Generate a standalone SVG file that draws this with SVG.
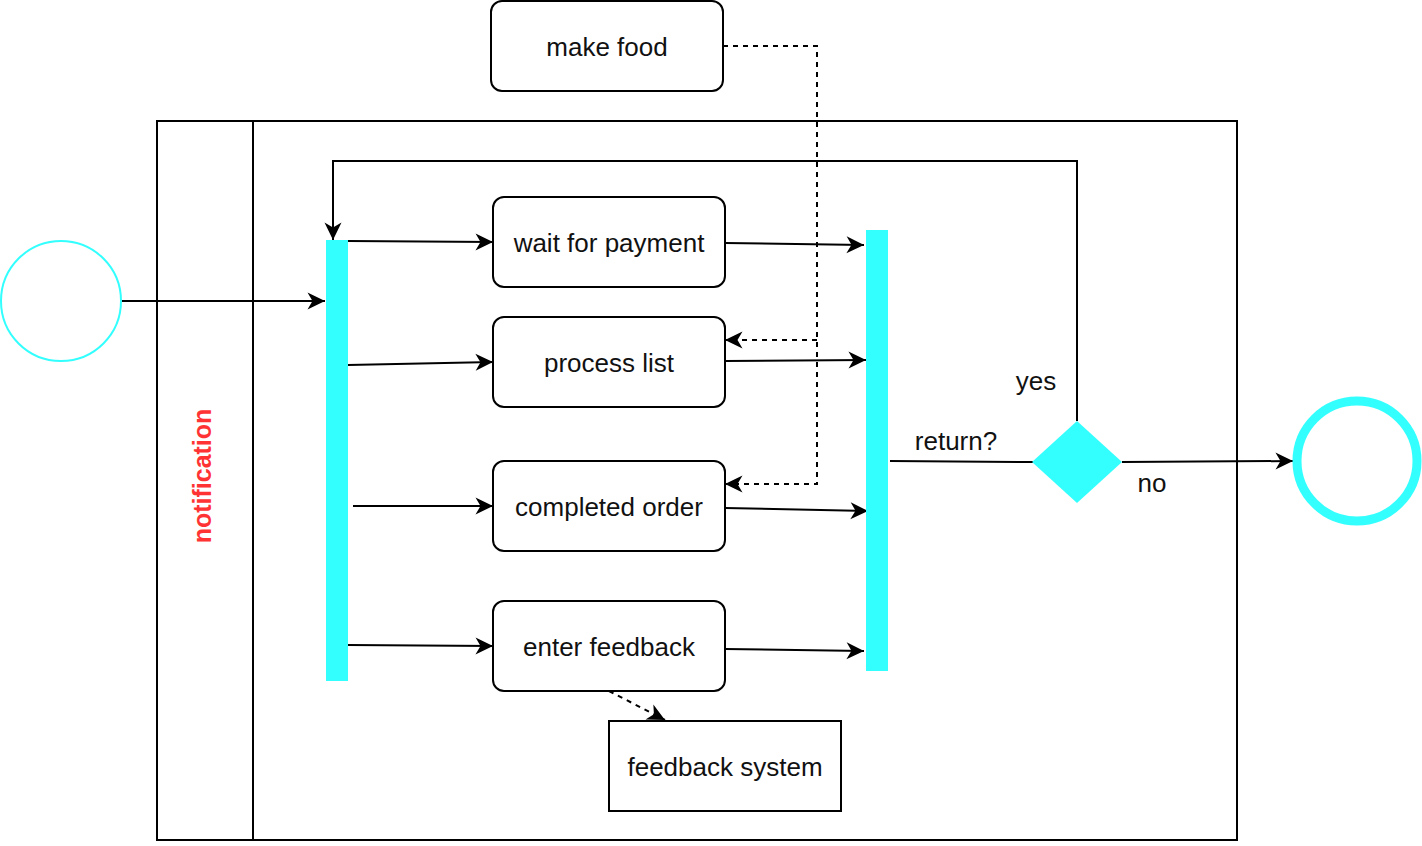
<svg xmlns="http://www.w3.org/2000/svg" width="1422" height="846" viewBox="0 0 1422 846">
<style>
  .box { fill: #fff; stroke: #000; stroke-width: 2; }
  .lbl { font-family: "Liberation Sans", Arial, sans-serif; font-size: 26px; fill: #111; text-anchor: middle; }
  .bar { fill: #33FFFF; }
  .edge { fill: none; stroke: #000; stroke-width: 2; }
  .dash { fill: none; stroke: #000; stroke-width: 2; stroke-dasharray: 5 5; }
</style>
<defs>
  <marker id="arr" markerUnits="userSpaceOnUse" markerWidth="19" markerHeight="19" viewBox="0 0 19 19" refX="18" refY="9.5" orient="auto">
    <path d="M0.5,1 L18,9.5 L0.5,18 L5.5,9.5 Z" fill="#000"/>
  </marker>
</defs>
<rect width="1422" height="846" fill="#fff"/>

<g id="pool">
  <rect x="157" y="121" width="1080" height="719" fill="none" stroke="#000" stroke-width="2"/>
  <line x1="253" y1="121" x2="253" y2="840" stroke="#000" stroke-width="2"/>
  <text transform="translate(211,476) rotate(-90)" x="0" y="0" style="font-family: 'Liberation Sans', Arial, sans-serif; font-size: 25px; font-weight: bold; fill: #FF3333; text-anchor: middle;">notification</text>
</g>

<g id="connectors">
  <line class="edge" x1="121" y1="301" x2="325" y2="301" marker-end="url(#arr)"/>
  <polyline class="edge" points="1077,421 1077,161 333,161 333,240" marker-end="url(#arr)"/>
  <line class="edge" x1="348" y1="241" x2="493" y2="242" marker-end="url(#arr)"/>
  <line class="edge" x1="348" y1="365" x2="493" y2="362" marker-end="url(#arr)"/>
  <line class="edge" x1="353" y1="506" x2="493" y2="506" marker-end="url(#arr)"/>
  <line class="edge" x1="348" y1="645" x2="493" y2="646" marker-end="url(#arr)"/>
  <line class="edge" x1="725" y1="243" x2="864" y2="245" marker-end="url(#arr)"/>
  <line class="edge" x1="725" y1="361" x2="866" y2="360" marker-end="url(#arr)"/>
  <line class="edge" x1="725" y1="508" x2="868" y2="511" marker-end="url(#arr)"/>
  <line class="edge" x1="725" y1="649" x2="864" y2="651" marker-end="url(#arr)"/>
  <line class="edge" x1="890" y1="461" x2="1033" y2="462"/>
  <line class="edge" x1="1122" y1="462" x2="1293" y2="461" marker-end="url(#arr)"/>
  <polyline class="dash" points="723,46 817,46 817,484 725,484" marker-end="url(#arr)"/>
  <polyline class="dash" points="817,340 725,340" marker-end="url(#arr)"/>
  <line class="dash" x1="609" y1="691" x2="665" y2="720" marker-end="url(#arr)"/>
  <text class="lbl" x="956" y="450">return?</text>
  <text class="lbl" x="1036" y="390">yes</text>
  <text class="lbl" x="1152" y="492">no</text>
</g>

<g id="start">
  <circle cx="61" cy="301" r="60" fill="#fff" stroke="#33FFFF" stroke-width="2"/>
</g>
<g id="fork">
  <rect class="bar" x="326" y="240" width="22" height="441"/>
</g>
<g id="join">
  <rect class="bar" x="866" y="230" width="22" height="441"/>
</g>
<g id="make-food">
  <rect class="box" x="491" y="1" width="232" height="90" rx="11"/>
  <text class="lbl" x="607" y="56">make food</text>
</g>
<g id="wait-for-payment">
  <rect class="box" x="493" y="197" width="232" height="90" rx="11"/>
  <text class="lbl" x="609" y="252">wait for payment</text>
</g>
<g id="process-list">
  <rect class="box" x="493" y="317" width="232" height="90" rx="11"/>
  <text class="lbl" x="609" y="372">process list</text>
</g>
<g id="completed-order">
  <rect class="box" x="493" y="461" width="232" height="90" rx="11"/>
  <text class="lbl" x="609" y="516">completed order</text>
</g>
<g id="enter-feedback">
  <rect class="box" x="493" y="601" width="232" height="90" rx="11"/>
  <text class="lbl" x="609" y="656">enter feedback</text>
</g>
<g id="feedback-system">
  <rect class="box" x="609" y="721" width="232" height="90"/>
  <text class="lbl" x="725" y="776">feedback system</text>
</g>
<g id="decision">
  <polygon points="1032,462 1077,421 1122,462 1077,503" fill="#33FFFF"/>
</g>
<g id="end">
  <circle cx="1357" cy="461" r="60" fill="#fff" stroke="#33FFFF" stroke-width="9"/>
</g>
</svg>
